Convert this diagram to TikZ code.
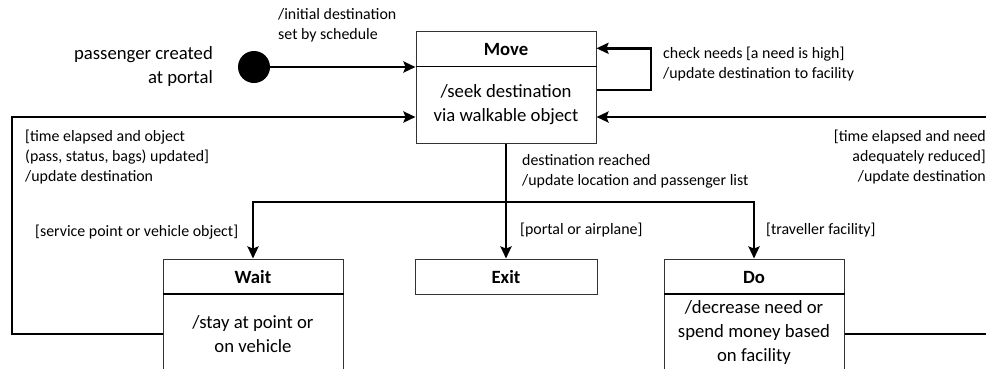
\documentclass[tikz,border=0pt]{standalone}
\usepackage{fontspec}
\setmainfont{Carlito}
\usetikzlibrary{arrows.meta,calc}
\tikzset{
  smalltxt/.style={font=\fontsize{15.9}{20}\selectfont, inner sep=0pt},
  bigtxt/.style={font=\fontsize{18.7}{24}\selectfont, inner sep=0pt},
  titletxt/.style={font=\fontsize{18.7}{22}\selectfont\bfseries, inner sep=0pt},
  statebox/.style={draw=black!80, line width=1pt, rectangle, inner sep=0pt},
  divider/.style={line width=1.8pt},
  flow/.style={line width=2.4pt, -{Stealth[length=12pt,width=11pt,inset=2pt]}},
  flowline/.style={line width=2.4pt}
}
\begin{document}
\begin{tikzpicture}[x=1pt,y=-1pt]
\useasboundingbox (0,0) rectangle (986,368);
\clip (0,0) rectangle (986,368);

% state boxes
\node[statebox, minimum width=180pt, minimum height=112pt] (move) at (506,87) {};
\node[statebox, minimum width=180pt, minimum height=121pt] (wait) at (253,319.5) {};
\node[statebox, minimum width=182pt, minimum height=35pt] (exitst) at (506,276.5) {};
\node[statebox, minimum width=180pt, minimum height=121pt] (do) at (754,319.5) {};

% compartment dividers
\draw[divider] (move.west |- 0,66.5) -- (move.east |- 0,66.5);
\draw[divider] (wait.west |- 0,294) -- (wait.east |- 0,294);
\draw[divider] (do.west |- 0,294) -- (do.east |- 0,294);

% state texts
\node[titletxt] (movet) at (506,49) {Move};
\node[bigtxt, align=center] (moveb) at (506,104.7) {/seek destination\\via walkable object};
\node[titletxt] (waitt) at (253,277) {Wait};
\node[bigtxt, align=center] (waitb) at (253,334.5) {/stay at point or\\on vehicle};
\node[titletxt] (exitt) at (506,277) {Exit};
\node[titletxt] (dot_) at (754,277) {Do};
\node[bigtxt, align=center] (dob) at (754,332.5) {/decrease need or\\spend money based\\on facility};

% initial pseudo-state
\node[circle, fill=black, minimum size=32pt, inner sep=0pt] (init) at (254,67) {};
\node[bigtxt, align=right, anchor=east] (initlbl) at (213,67) {passenger created\\at portal};

% waypoints
\coordinate (loopA) at (651,90);
\coordinate (loopB) at (651,48.3);
\coordinate (leftA) at (12,334);
\coordinate (leftB) at (12,117);
\coordinate (rightA) at (992,334);
\coordinate (rightB) at (992,117);
\coordinate (split) at (506,202);

% transitions
\draw[flow] (init.east) -- (move.west |- init);
\draw[flow] (move.east |- loopA) -- (loopA) -- (loopB) -- (move.east |- loopB);
\draw[flow] (wait.west |- leftA) -- (leftA) -- (leftB) -- (move.west |- leftB);
\draw[flow] (do.east |- rightA) -- (rightA) -- (rightB) -- (move.east |- rightB);
\draw[flowline] (move.south -| split) -- (split);
\draw[flow] (split) -- (exitst.north);
\draw[flow] (split) -| (wait.north);
\draw[flow] (split) -| (do.north);

% transition labels
\node[smalltxt, align=left, anchor=west] (l1) at (278,25) {/initial destination\\set by schedule};
\node[smalltxt, align=left, anchor=west] (l2) at (663,64) {check needs [a need is high]\\/update destination to facility};
\node[smalltxt, align=left, anchor=west] (l3) at (25,157.5) {[time elapsed and object\\(pass, status, bags) updated]\\/update destination};
\node[smalltxt, align=right, anchor=east] (l4) at (986,157) {[time elapsed and need\\adequately reduced]\\/update destination};
\node[smalltxt, align=left, anchor=west] (l5) at (522,171) {destination reached\\/update location and passenger list};
\node[smalltxt, anchor=west] (l6) at (35,232) {[service point or vehicle object]};
\node[smalltxt, anchor=west] (l7) at (520,230) {[portal or airplane]};
\node[smalltxt, anchor=west] (l8) at (766,230) {[traveller facility]};
\end{tikzpicture}
\end{document}
